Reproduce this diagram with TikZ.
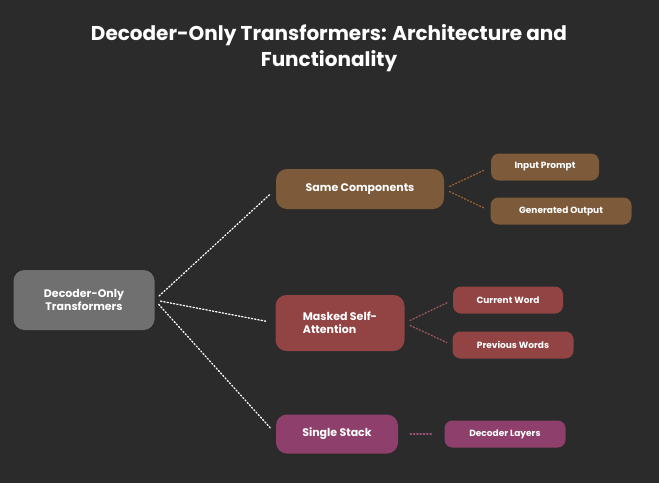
\documentclass[tikz,border=0pt]{standalone}
\usepackage{fontspec}
\setmainfont{Poppins}
\definecolor{bgc}{HTML}{2B2B2B}
\definecolor{rootc}{HTML}{707070}
\definecolor{brownc}{HTML}{7D5A3A}
\definecolor{redc}{HTML}{924444}
\definecolor{purplec}{HTML}{8E3F6B}
\tikzset{box/.style={rounded corners=11pt,text=white,font=\fontsize{11}{13}\selectfont\bfseries,align=left,inner sep=0pt}}
\tikzset{leaf/.style={rounded corners=8pt,text=white,font=\fontsize{9}{11}\selectfont\bfseries,inner sep=0pt,minimum height=27pt}}
\tikzset{link/.style={dotted,line width=1.3pt,line cap=round}}

\begin{document}
\begin{tikzpicture}[x=1pt,y=-1pt]
        % background
        \fill[bgc] (0,0) rectangle (659,483);
        % title
        \node[text=white,font=\fontsize{20}{26}\selectfont\bfseries,align=center] (title) at (329,48) {Decoder-Only Transformers: Architecture and\\Functionality};
        % main nodes
        \node[box,fill=rootc,minimum width=141pt,minimum height=60pt,align=center] (root) at (84,300) {Decoder-Only\\Transformers};
        \node[box,fill=brownc,minimum width=168pt,minimum height=40pt] (same) at (360,189) {Same Components};
        \node[box,fill=redc,minimum width=129pt,minimum height=56pt] (masked) at (340,323) {Masked Self-\\Attention};
        \node[box,fill=purplec,minimum width=122pt,minimum height=39pt] (single) at (337,434) {Single Stack};
        % leaves
        \node[leaf,fill=brownc,minimum width=108pt] (input) at (545,167) {Input Prompt};
        \node[leaf,fill=brownc,minimum width=141pt] (generated) at (561,211) {Generated Output};
        \node[leaf,fill=redc,minimum width=110pt] (current) at (508,300) {Current Word};
        \node[leaf,fill=redc,minimum width=121pt] (previous) at (513,345) {Previous Words};
        \node[leaf,fill=purplec,minimum width=121pt] (layers) at (505,434) {Decoder Layers};
        % connectors
        \draw[link,white,shorten <=6pt,shorten >=8pt] (root.east) -- (same.west);
        \draw[link,white,shorten <=6pt,shorten >=8pt] (root.east) -- (masked.west);
        \draw[link,white,shorten <=6pt,shorten >=8pt] (root.east) -- (single.west);
        \draw[link,brownc!80!orange,shorten <=6pt,shorten >=6pt] (same.east) -- (input.west);
        \draw[link,brownc!80!orange,shorten <=6pt,shorten >=6pt] (same.east) -- (generated.west);
        \draw[link,redc!90!white,shorten <=6pt,shorten >=6pt] (masked.east) -- (current.west);
        \draw[link,redc!90!white,shorten <=6pt,shorten >=6pt] (masked.east) -- (previous.west);
        \draw[link,purplec!90!white,shorten <=12pt,shorten >=12pt] (single.east) -- (layers.west);
\end{tikzpicture}
\end{document}
